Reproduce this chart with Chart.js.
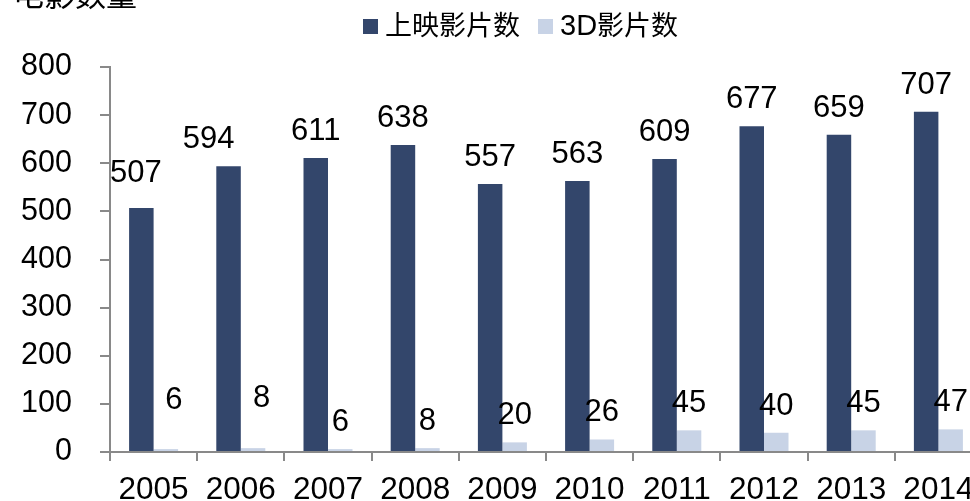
<!DOCTYPE html>
<html>
<head>
<meta charset="utf-8">
<script src="https://cdn.jsdelivr.net/npm/chart.js@4.4.1/dist/chart.umd.min.js"></script>
<style>
  html, body { margin: 0; padding: 0; background: #fff; overflow: hidden; width: 970px; height: 501px; }
  #wrap { position: relative; width: 1000px; height: 501px; }
  #yTitle { position: absolute; left: 13px; top: -23px; font: 31px "Noto Sans CJK SC", sans-serif; line-height: 1; color: #000; white-space: nowrap; }
  #yTitle .unit { font-size: 19px; vertical-align: top; position: relative; top: -12px; }
  #legend { position: absolute; left: 363px; top: 8px; font: 27px "Noto Sans CJK SC", sans-serif; line-height: 32px; color: #000; white-space: nowrap; }
  #legend .sw { display: inline-block; width: 15px; height: 15px; vertical-align: 1px; margin-right: 7px; }
  #legend .item { margin-right: 18px; }
  #legend .lat { font-family: "Liberation Sans", Arial, sans-serif; font-size: 29px; }
</style>
</head>
<body>
<div id="wrap">
  <canvas id="chart" width="1000" height="501"></canvas>
  <div id="yTitle">电影数量<span class="unit">（部）</span></div>
  <div id="legend"></div>
</div>
<script>
// chart data
const years = ["2005", "2006", "2007", "2008", "2009", "2010", "2011", "2012", "2013", "2014"];
const releasedFilms = [507, 594, 611, 638, 557, 563, 609, 677, 659, 707];
const films3D = [6, 8, 6, 8, 20, 26, 45, 40, 45, 47];
const seriesNames = ["上映影片数", "3D影片数"];
const yTicks = [0, 100, 200, 300, 400, 500, 600, 700, 800];

const DARK = "#33466b";
const LIGHT = "#c8d3e6";
const AXIS = "#898989";
const LATIN = '"Liberation Sans", Arial, sans-serif';

// legend in html
document.getElementById("legend").innerHTML =
  '<span class="item"><span class="sw" style="background:' + DARK + '"></span>' + seriesNames[0] + '</span>' +
  '<span class="item"><span class="sw" style="background:' + LIGHT + '"></span><span class="lat">3D</span>影片数</span>';

// a few labels were hand-moved in the original
const labelShift = {
  "0-0": [-5.5, -8.5],
  "0-1": [-20, 0],
  "1-0": [8, -22],
  "1-1": [8.5, -23.5],
};

const valueLabels = {
  id: "valueLabels",
  afterDatasetsDraw(chart) {
    const ctx = chart.ctx;
    ctx.save();
    ctx.font = "31px " + LATIN;
    ctx.fillStyle = "#000";
    ctx.textAlign = "center";
    ctx.textBaseline = "alphabetic";
    chart.data.datasets.forEach((ds, di) => {
      chart.getDatasetMeta(di).data.forEach((bar, i) => {
        const s = labelShift[di + "-" + i] || [0, 0];
        ctx.fillText(String(ds.data[i]), bar.x + s[0], bar.y - 18 + s[1]);
      });
    });
    ctx.restore();
  },
};

new Chart(document.getElementById("chart").getContext("2d"), {
  type: "bar",
  data: {
    labels: years,
    datasets: [
      { label: seriesNames[0], data: releasedFilms, backgroundColor: DARK, borderWidth: 0 },
      { label: seriesNames[1], data: films3D, backgroundColor: LIGHT, borderWidth: 0 },
    ],
  },
  options: {
    responsive: false,
    animation: false,
    events: [],
    layout: { padding: { top: 67, left: 0, right: 18, bottom: 0 } },
    datasets: { bar: { categoryPercentage: 0.562, barPercentage: 1 } },
    plugins: { legend: { display: false }, tooltip: { enabled: false } },
    scales: {
      x: {
        grid: { display: true, drawOnChartArea: false, drawTicks: true, tickLength: 9, color: AXIS, lineWidth: 2 },
        border: { display: true, color: AXIS, width: 2 },
        ticks: { color: "#000", font: { family: LATIN, size: 31.5 }, padding: 10, maxRotation: 0, autoSkip: false },
        afterFit: (s) => { s.height = 49; },
      },
      y: {
        min: 0,
        max: 800,
        afterBuildTicks: (s) => { s.ticks = yTicks.map((v) => ({ value: v })); },
        grid: { display: true, drawOnChartArea: false, drawTicks: true, tickLength: 10, color: AXIS, lineWidth: 2 },
        border: { display: true, color: AXIS, width: 2 },
        ticks: { color: "#000", font: { family: LATIN, size: 30.5 }, padding: 28 },
        afterFit: (s) => { s.width = 110; },
      },
    },
  },
  plugins: [valueLabels],
});
</script>
</body>
</html>
